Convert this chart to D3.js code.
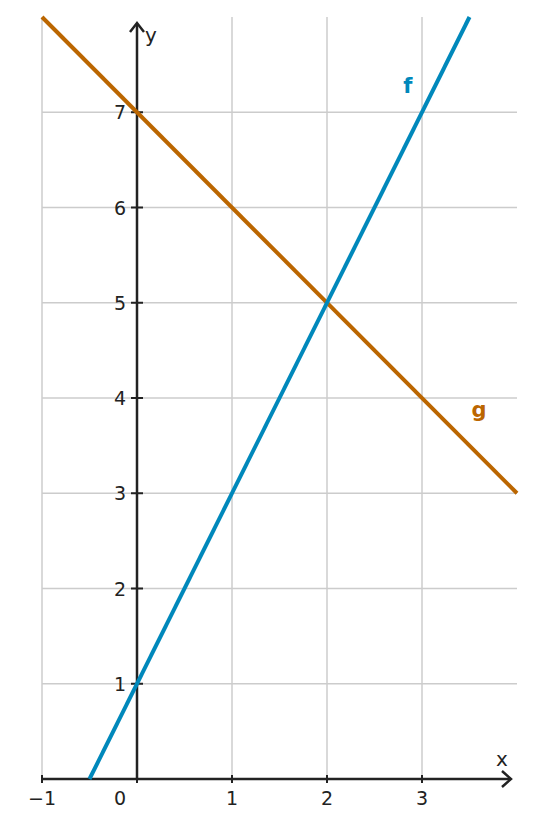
<!DOCTYPE html>
<html><head><meta charset="utf-8">
<script src="https://cdn.jsdelivr.net/npm/d3@7"></script>
<style>body{margin:0;background:#fff}svg{font-family:"DejaVu Sans",sans-serif}</style>
</head><body>
<svg id="c" width="535" height="827"></svg>
<script>
const xTicks=[-1,0,1,2,3];
const yTicks=[1,2,3,4,5,6,7];
const gridX=[-1,1,2,3];
const gridY=[1,2,3,4,5,6,7];
const fPts=[[-0.5,0],[3.5,8]];
const gPts=[[-1,8],[4,3]];
const labels=[{t:"f",x:2.85,y:7.2,c:"#0088bb"},{t:"g",x:3.6,y:3.8,c:"#bb6600"}];

const svg=d3.select("#c");
const x=d3.scaleLinear().domain([-1,4]).range([42,517]);
const y=d3.scaleLinear().domain([0,8]).range([779,17]);
const grid="#cccccc";
gridX.forEach(v=>svg.append("line").attr("x1",x(v)).attr("x2",x(v)).attr("y1",y(8)).attr("y2",y(0)).attr("stroke",grid).attr("stroke-width",1.5));
gridY.forEach(v=>svg.append("line").attr("x1",x(-1)).attr("x2",x(4)).attr("y1",y(v)).attr("y2",y(v)).attr("stroke",grid).attr("stroke-width",1.5));
const ax="#222";
// axes
svg.append("line").attr("x1",x(-1)).attr("x2",510).attr("y1",y(0)).attr("y2",y(0)).attr("stroke",ax).attr("stroke-width",2.5);
svg.append("line").attr("x1",x(0)).attr("x2",x(0)).attr("y1",y(0)).attr("y2",24).attr("stroke",ax).attr("stroke-width",2.5);
svg.append("path").attr("d",`M502,771 L511,${y(0)} L502,787`).attr("fill","none").attr("stroke",ax).attr("stroke-width",2.5);
svg.append("path").attr("d",`M${x(0)-7},32 L${x(0)},23 L${x(0)+7},32`).attr("fill","none").attr("stroke",ax).attr("stroke-width",2.5);
xTicks.forEach(v=>{
  svg.append("line").attr("x1",x(v)).attr("x2",x(v)).attr("y1",y(0)-4).attr("y2",y(0)+4).attr("stroke",ax).attr("stroke-width",2);
  svg.append("text").attr("x",v===0?x(v)-17:x(v)).attr("y",805).attr("text-anchor","middle").attr("font-size",19).attr("fill",ax).text(v<0?"\u2212"+(-v):v);
});
yTicks.forEach(v=>{
  svg.append("line").attr("x1",x(0)-6).attr("x2",x(0)+6).attr("y1",y(v)).attr("y2",y(v)).attr("stroke",ax).attr("stroke-width",2);
  svg.append("text").attr("x",126).attr("y",y(v)+7).attr("text-anchor","end").attr("font-size",19).attr("fill",ax).text(v);
});
svg.append("text").attr("x",502).attr("y",766).attr("text-anchor","middle").attr("font-size",20).attr("fill",ax).text("x");
svg.append("text").attr("x",151).attr("y",42).attr("text-anchor","middle").attr("font-size",20).attr("fill",ax).text("y");
const line=d3.line().x(d=>x(d[0])).y(d=>y(d[1]));
svg.append("path").attr("d",line(gPts)).attr("stroke","#bb6600").attr("stroke-width",4).attr("fill","none");
svg.append("path").attr("d",line(fPts)).attr("stroke","#0088bb").attr("stroke-width",4).attr("fill","none");
labels.forEach(l=>svg.append("text").attr("x",x(l.x)).attr("y",y(l.y)).attr("text-anchor","middle").attr("font-size",21).attr("font-weight","bold").attr("fill",l.c).text(l.t));
</script>
</body></html>
